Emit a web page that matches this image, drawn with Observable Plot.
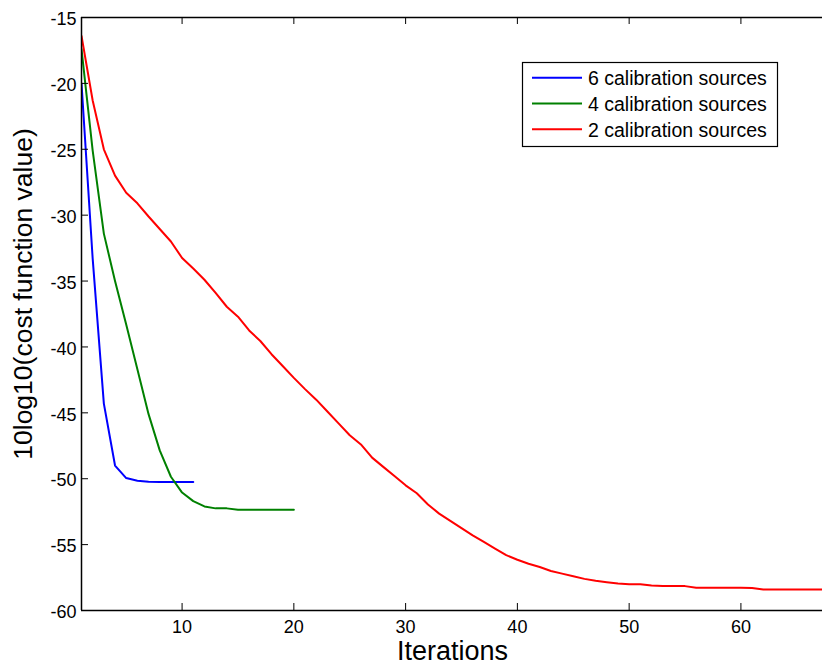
<!DOCTYPE html>
<html><head><meta charset="utf-8">
<script src="https://cdn.jsdelivr.net/npm/d3@7"></script>
<script src="https://cdn.jsdelivr.net/npm/@observablehq/plot@0.6"></script>
<style>body{margin:0;background:#fff} svg{display:block}</style>
</head><body><div id="chart"></div>
<script>
const seriesNames = ["6 calibration sources", "4 calibration sources", "2 calibration sources"];
const seriesColors = ["#0000ff", "#008000", "#ff0000"];

const values6 = [-20, -33.3, -44.3, -49.0, -49.95, -50.15, -50.23, -50.25, -50.25, -50.25, -50.25];
const values4 = [-17.4, -25.1, -31.4, -35.0, -38.3, -41.7, -45.1, -47.85, -49.85, -51.05,
                 -51.7, -52.1, -52.25, -52.25, -52.35, -52.35, -52.35, -52.35, -52.35, -52.35];
const values2 = [-16.4, -21.3, -25.0, -27.0, -28.3, -29.1, -30.1, -31.05, -32.0, -33.25,
                 -34.05, -34.9, -35.9, -36.95, -37.7, -38.75, -39.55, -40.55, -41.45, -42.35,
                 -43.2, -44.0, -44.9, -45.8, -46.7, -47.4, -48.4, -49.1, -49.8, -50.5,
                 -51.1, -51.95, -52.65, -53.2, -53.75, -54.3, -54.8, -55.3, -55.8, -56.15,
                 -56.45, -56.7, -57.0, -57.2, -57.4, -57.6, -57.75, -57.85, -57.95, -58.0,
                 -58.0, -58.1, -58.15, -58.15, -58.15, -58.28, -58.28, -58.28, -58.28, -58.28,
                 -58.3, -58.4, -58.4, -58.4, -58.4, -58.4, -58.4, -58.4];

const xTicks = [10, 20, 30, 40, 50, 60];
const yTicks = [-60, -55, -50, -45, -40, -35, -30, -25, -20, -15];
const xDomain = [1, 67.3];
const yDomain = [-60, -15];
const xLabel = "Iterations";
const yLabel = "10log10(cost function value)";

const seriesValues = [values6, values4, values2];
const rows = [];
seriesValues.forEach((vals, i) => vals.forEach((v, j) => rows.push({series: seriesNames[i], iter: j + 1, value: v})));

const font = "'Liberation Sans', Arial, Helvetica, sans-serif";
const W = 822, H = 666, ML = 81, MR = 0, MT = 17, MB = 56;
const frameW = W - ML - MR, frameH = H - MT - MB, tick = 7;

const plot = Plot.plot({
  width: W, height: H,
  marginLeft: ML, marginRight: MR, marginTop: MT, marginBottom: MB,
  x: {domain: xDomain},
  y: {domain: yDomain},
  color: {domain: seriesNames, range: seriesColors},
  style: {fontFamily: font, fontSize: "18px", color: "black", background: "white", overflow: "visible"},
  marks: [
    Plot.line(rows, {x: "iter", y: "value", z: "series", stroke: "series", strokeWidth: 2, clip: true}),
    // inward ticks
    Plot.tickY(yTicks, {y: d => d, insetRight: frameW - tick, stroke: "black", strokeWidth: 1}),
    Plot.tickX(xTicks, {x: d => d, insetTop: frameH - tick, stroke: "black", strokeWidth: 1}),
    Plot.tickX(xTicks, {x: d => d, insetBottom: frameH - tick, stroke: "black", strokeWidth: 1}),
    // axis lines
    Plot.ruleX([xDomain[0]], {stroke: "black", strokeWidth: 1.5}),
    Plot.ruleY(yDomain, {stroke: "black", strokeWidth: 1.5}),
    Plot.axisX(xTicks, {anchor: "bottom", tickSize: 0, tickPadding: 10, tickFormat: d => String(d), label: null, fontSize: 18}),
    Plot.axisY(yTicks, {anchor: "left", tickSize: 0, tickPadding: 5, dy: 2, tickFormat: d => String(d), label: null, fontSize: 18})
  ]
});

document.getElementById("chart").appendChild(plot);

const svg = d3.select(plot);
// axis titles
svg.append("text")
  .attr("x", 452.5).attr("y", 660)
  .attr("text-anchor", "middle")
  .attr("font-family", font).attr("font-size", 27).attr("fill", "black")
  .text(xLabel);
svg.append("text")
  .attr("transform", "translate(31.5,294) rotate(-90)")
  .attr("text-anchor", "middle")
  .attr("font-family", font).attr("font-size", 26.5).attr("fill", "black")
  .text(yLabel);

// legend
const lg = svg.append("g");
lg.append("rect").attr("x", 522.5).attr("y", 62.5).attr("width", 255).attr("height", 84)
  .attr("fill", "white").attr("stroke", "black").attr("stroke-width", 1.2);
seriesNames.forEach((name, i) => {
  const cy = 77.7 + 25.8 * i;
  lg.append("line").attr("x1", 532).attr("x2", 582).attr("y1", cy).attr("y2", cy)
    .attr("stroke", seriesColors[i]).attr("stroke-width", 2);
  lg.append("text").attr("x", 588).attr("y", cy + 7.5)
    .attr("text-anchor", "start")
    .attr("font-family", font).attr("font-size", 19.5).attr("fill", "black")
    .text(name);
});
</script>
</body></html>
